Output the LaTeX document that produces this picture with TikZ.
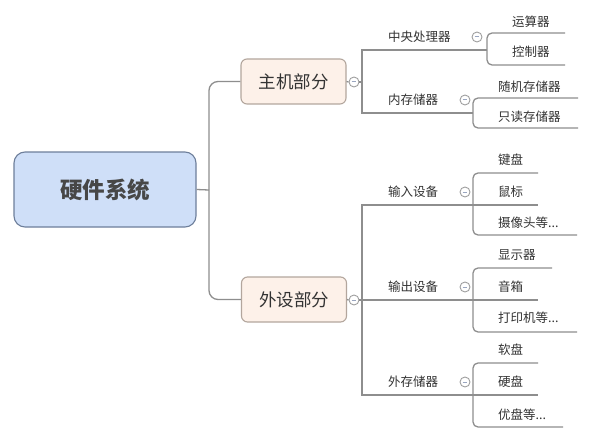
\documentclass[tikz,border=0pt]{standalone}
\usepackage{fontspec}
\newfontfamily\cjk{Noto Sans CJK SC}
\definecolor{linec}{HTML}{8E8E8E}
\definecolor{rootfill}{HTML}{CFDFF8}
\definecolor{rootdraw}{HTML}{6E7F9B}
\definecolor{subfill}{HTML}{FDF1E9}
\definecolor{subdraw}{HTML}{B3A69D}
\definecolor{txt}{HTML}{333333}
\definecolor{minusc}{HTML}{9AA6C0}
\begin{document}
\begin{tikzpicture}[x=1pt,y=-1pt,
  conn/.style={draw=linec,line width=1.3pt},
  rootbox/.style={draw=rootdraw,fill=rootfill,line width=1.1pt,rounded corners=11pt,minimum width=182pt,minimum height=75pt,font=\cjk\fontsize{22.5}{26}\selectfont\bfseries,text=txt!90},
  subbox/.style={draw=subdraw,fill=subfill,line width=1.1pt,rounded corners=6pt,minimum width=105pt,minimum height=45pt,font=\cjk\fontsize{17.5}{20}\selectfont,text=txt},
  lbl/.style={anchor=west,inner sep=0pt,font=\cjk\fontsize{12.5}{14}\selectfont,text=txt},
  leaf/.style={anchor=west,inner sep=0pt,font=\cjk\fontsize{12.5}{14}\selectfont,text=txt},
  tog/.style={circle,draw=linec!85,fill=white,line width=0.9pt,minimum size=10pt,inner sep=0pt,
    path picture={\draw[minusc,line width=1pt] ([xshift=-2.3pt]path picture bounding box.center) -- ([xshift=2.3pt]path picture bounding box.center);}}
]
\useasboundingbox (0,0) rectangle (607,441);
\fill[white] (0,0) rectangle (607,441);

% root and main branches
\node[rootbox] (root) at (105,189.5) {硬件系统};
\node[subbox] (host) at (293.5,81.5) {主机部分};
\node[subbox] (peri) at (294,299.5) {外设部分};
\coordinate (rj) at (209,190);
\draw[conn] (root.east) -- (rj);
\draw[conn,rounded corners=9pt] (host.west) -- (209,81.5) -- (209,299.5) -- (peri.west);

% host branch
\node[tog] (t1) at (354,82) {};
\draw[conn] (host.east) -- (t1.west);
\coordinate (v1) at (362,82);
\draw[conn] (t1.east) -- (v1);
\draw[conn] (487,50) -- (362,50) -- (362,113) -- (473,113);

\node[lbl] (cpu) at (388,37) {中央处理器};
\node[tog] (tcpu) at (477,37) {};
\draw[conn,rounded corners=5pt] (565,33) -- (487,33) -- (487,65) -- (565,65);
\node[leaf] (alu) at (512,22) {运算器};
\node[leaf] (ctl) at (512,52) {控制器};

\node[lbl] (mem) at (388,100) {内存储器};
\node[tog] (tmem) at (465,100) {};
\draw[conn,rounded corners=5pt] (578,98) -- (473,98) -- (473,128) -- (578,128);
\node[leaf] (ram) at (498,87) {随机存储器};
\node[leaf] (rom) at (498,117) {只读存储器};

% peripheral branch
\node[tog] (t2) at (354,300) {};
\draw[conn] (peri.east) -- (t2.west);
\coordinate (v2) at (362,300);
\draw[conn] (t2.east) -- (v2);
\draw[conn] (473,205) -- (362,205) -- (362,395) -- (473,395);
\draw[conn] (v2) -- (473,300);

\node[lbl] (inp) at (388,192) {输入设备};
\node[tog] (tinp) at (465,192) {};
\draw[conn,rounded corners=5pt] (538,173) -- (473,173) -- (473,235) -- (577,235);
\draw[conn] (473,205) -- (538,205);
\node[leaf] (kb) at (498,160) {键盘};
\node[leaf] (ms) at (498,192) {鼠标};
\node[leaf] (cam) at (498,223) {摄像头等...};

\node[lbl] (outp) at (388,287) {输出设备};
\node[tog] (tout) at (465,287) {};
\draw[conn,rounded corners=5pt] (552,268) -- (473,268) -- (473,332) -- (577,332);
\draw[conn] (473,300) -- (538,300);
\node[leaf] (disp) at (498,255) {显示器};
\node[leaf] (spk) at (498,287) {音箱};
\node[leaf] (prn) at (498,318) {打印机等...};

\node[lbl] (ext) at (388,382) {外存储器};
\node[tog] (text) at (465,382) {};
\draw[conn,rounded corners=5pt] (538,363) -- (473,363) -- (473,427) -- (563,427);
\draw[conn] (473,395) -- (538,395);
\node[leaf] (fd) at (498,350) {软盘};
\node[leaf] (hd) at (498,382) {硬盘};
\node[leaf] (ud) at (498,415) {优盘等...};
\end{tikzpicture}
\end{document}
